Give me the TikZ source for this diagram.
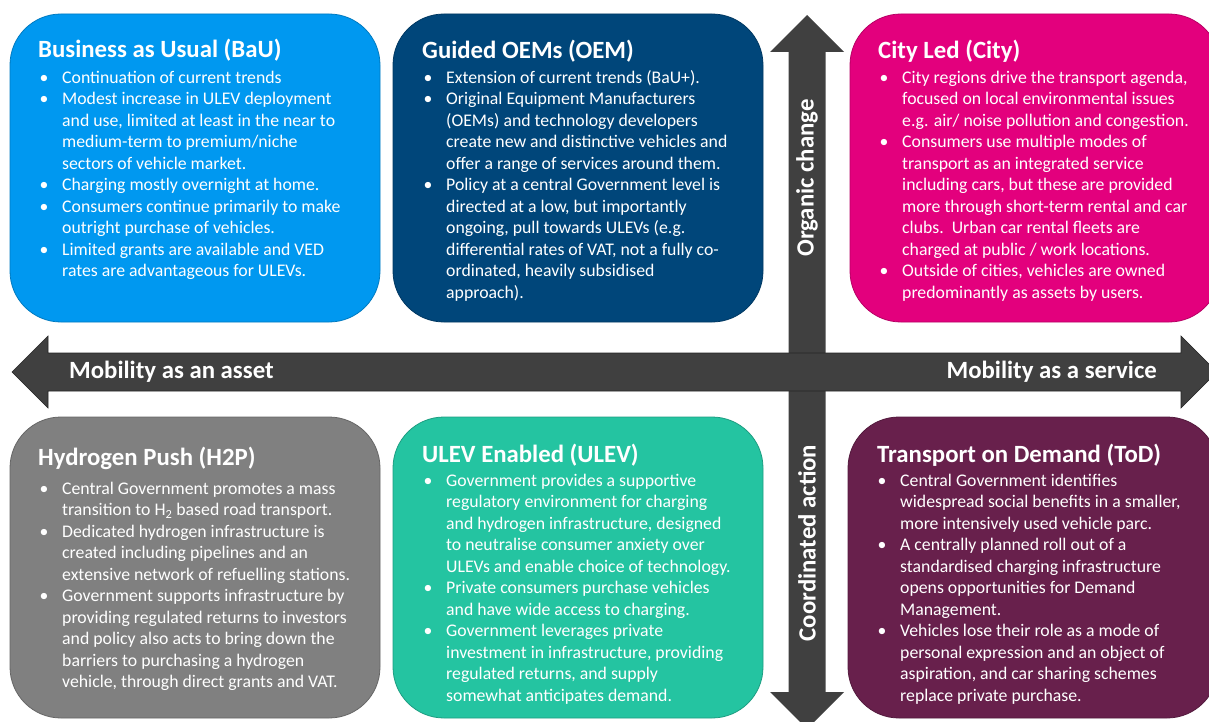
\documentclass[tikz,border=0pt]{standalone}
\usepackage{fontspec}
\setmainfont{Carlito}
\usepackage{xcolor}
\usepackage{tikz}

\definecolor{bauFill}{RGB}{0,152,240}
\definecolor{oemFill}{RGB}{0,70,122}
\definecolor{cityFill}{RGB}{227,0,125}
\definecolor{htpFill}{RGB}{128,128,128}
\definecolor{ulevFill}{RGB}{36,196,161}
\definecolor{todFill}{RGB}{104,32,76}
\definecolor{axisGrey}{RGB}{64,64,64}

\tikzstyle{scenario} = [rectangle, rounded corners=51pt, minimum width=370pt, inner sep=0pt, line width=0.8pt]
\tikzstyle{heading}  = [anchor=base west, inner sep=0pt, text=white, font=\fontsize{24.8}{28}\selectfont\bfseries]
\tikzstyle{points}   = [anchor=north west, inner sep=0pt, align=left, text=white, font=\fontsize{17.75}{21.5}\selectfont]
\tikzstyle{axislabel}= [inner sep=0pt, text=white, font=\fontsize{24.8}{28}\selectfont\bfseries]

\newcommand{\bul}{\rule{0pt}{15pt}\makebox[24pt][l]{\hspace{1.5pt}\textbullet}}
\newcommand{\cnt}{\hspace*{24pt}}

\begin{document}
\begin{tikzpicture}[x=1pt, y=-1pt]
    \useasboundingbox (0,0) rectangle (1209,722);

    % scenario boxes
    \node (bau)  at ( 195, 168)   [scenario, minimum height=308pt, fill=bauFill,  draw=bauFill!80!black]  {};
    \node (oem)  at ( 578, 168)   [scenario, minimum height=308pt, fill=oemFill,  draw=oemFill!80!black]  {};
    \node (city) at (1035, 168)   [scenario, minimum height=308pt, fill=cityFill, draw=cityFill!80!black] {};
    \node (htp)  at ( 195, 567.5) [scenario, minimum height=301pt, fill=htpFill,  draw=htpFill!80!black]  {};
    \node (ulev) at ( 578, 567.5) [scenario, minimum height=301pt, fill=ulevFill, draw=ulevFill!80!black] {};
    \node (tod)  at (1033, 567.5) [scenario, minimum height=301pt, fill=todFill,  draw=todFill!80!black]  {};

    \node (bauT)  at ( 38, 58)  [heading] {Business as Usual (BaU)};
    \node (bauP)  at ( 38, 68)  [points]  {\bul Continuation of current trends\\
        \bul Modest increase in ULEV deployment\\
        \cnt and use, limited at least in the near to\\
        \cnt medium-term to premium/niche\\
        \cnt sectors of vehicle market.\\
        \bul Charging mostly overnight at home.\\
        \bul Consumers continue primarily to make\\
        \cnt outright purchase of vehicles.\\
        \bul Limited grants are available and VED\\
        \cnt rates are advantageous for ULEVs.};

    \node (oemT)  at (422, 59)  [heading] {Guided OEMs (OEM)};
    \node (oemP)  at (422, 68)  [points]  {\bul Extension of current trends (BaU+).\\
        \bul Original Equipment Manufacturers\\
        \cnt (OEMs) and technology developers\\
        \cnt create new and distinctive vehicles and\\
        \cnt offer a range of services around them.\\
        \bul Policy at a central Government level is\\
        \cnt directed at a low, but importantly\\
        \cnt ongoing, pull towards ULEVs (e.g.\\
        \cnt differential rates of VAT, not a fully co-\\
        \cnt ordinated, heavily subsidised\\
        \cnt approach).};

    \node (cityT) at (878, 59)  [heading] {City Led (City)};
    \node (cityP) at (878, 68)  [points]  {\bul City regions drive the transport agenda,\\
        \cnt focused on local environmental issues\\
        \cnt e.g. air/ noise pollution and congestion.\\
        \bul Consumers use multiple modes of\\
        \cnt transport as an integrated service\\
        \cnt including cars, but these are provided\\
        \cnt more through short-term rental and car\\
        \cnt clubs.\ \ Urban car rental fleets are\\
        \cnt charged at public / work locations.\\
        \bul Outside of cities, vehicles are owned\\
        \cnt predominantly as assets by users.};

    \node (htpT)  at ( 38, 465) [heading] {Hydrogen Push (H2P)};
    \node (htpP)  at ( 38, 479) [points]  {\bul Central Government promotes a mass\\
        \cnt transition to H\textsubscript{2} based road transport.\\
        \bul Dedicated hydrogen infrastructure is\\
        \cnt created including pipelines and an\\
        \cnt extensive network of refuelling stations.\\
        \bul Government supports infrastructure by\\
        \cnt providing regulated returns to investors\\
        \cnt and policy also acts to bring down the\\
        \cnt barriers to purchasing a hydrogen\\
        \cnt vehicle, through direct grants and VAT.};

    \node (ulevT) at (422, 462) [heading] {ULEV Enabled (ULEV)};
    \node (ulevP) at (422, 471) [points]  {\bul Government provides a supportive\\
        \cnt regulatory environment for charging\\
        \cnt and hydrogen infrastructure, designed\\
        \cnt to neutralise consumer anxiety over\\
        \cnt ULEVs and enable choice of technology.\\
        \bul Private consumers purchase vehicles\\
        \cnt and have wide access to charging.\\
        \bul Government leverages private\\
        \cnt investment in infrastructure, providing\\
        \cnt regulated returns, and supply\\
        \cnt somewhat anticipates demand.};

    \node (todT)  at (877, 462) [heading] {Transport on Demand (ToD)};
    \node (todP)  at (876, 471) [points]  {\bul Central Government identifies\\
        \cnt widespread social benefits in a smaller,\\
        \cnt more intensively used vehicle parc.\\
        \bul A centrally planned roll out of a\\
        \cnt standardised charging infrastructure\\
        \cnt opens opportunities for Demand\\
        \cnt Management.\\
        \bul Vehicles lose their role as a mode of\\
        \cnt personal expression and an object of\\
        \cnt aspiration, and car sharing schemes\\
        \cnt replace private purchase.};

    % the two axes
    \fill[axisGrey] (807,15) -- (844,52) -- (825.5,52) -- (825.5,692) -- (844,692) -- (807,729)
        -- (770,692) -- (788.5,692) -- (788.5,52) -- (770,52) -- cycle;
    \fill[axisGrey, draw=black!85, line width=0.6pt] (12,372) -- (48,336) -- (48,353) -- (1181,353) -- (1181,336) -- (1217,372)
        -- (1181,408) -- (1181,391) -- (48,391) -- (48,408) -- cycle;

    \node (asset)   at (  69, 372) [axislabel, anchor=west] {Mobility as an asset};
    \node (service) at (1157, 372) [axislabel, anchor=east] {Mobility as a service};
    \node (organic) at ( 807, 178) [axislabel, rotate=90]   {Organic change};
    \node (coord)   at ( 807, 543) [axislabel, rotate=90]   {Coordinated action};
\end{tikzpicture}
\end{document}
